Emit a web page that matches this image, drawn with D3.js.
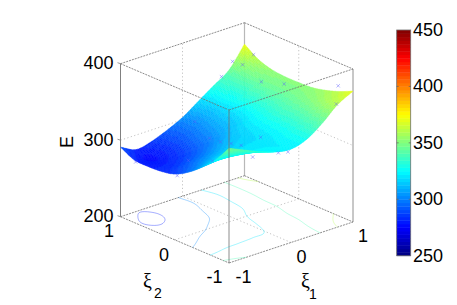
<!DOCTYPE html>
<html><head><meta charset="utf-8">
<script src="https://cdn.jsdelivr.net/npm/d3@7"></script>
<style>html,body{margin:0;padding:0;background:#fff}svg{display:block}text{font-family:"Liberation Sans",Arial,sans-serif;fill:#000}</style>
</head><body><svg id="c" width="457" height="305"></svg>
<script>
const xiGrid = [-1,-0.75,-0.5,-0.25,0,0.25,0.5,0.75,1];
// rows: xi2 = -1 ... 1, columns: xi1 = -1 ... 1
const surfaceE = [
 [350,341,332,325,322,328,342,360,371],
 [327,325,323,322,322,328,340,355,363],
 [310,316,318,319,320,326,337,350,357],
 [296,304,310,315,318,325,336,347,353],
 [286,294,300,308,315,323,333,345,352],
 [282,285,291,299,309,318,331,345,352],
 [281,280,285,295,305,316,329,344,354],
 [282,277,283,292,302,314,329,344,360],
 [291,281,285,293,303,317,331,345,372]
];
const sampleXi1 = [.97,.80,.82,.62,.79,.87,.98,.82,-.01,-.23,-.29,-.31,-.34,.01,-.32,-.16,.03,-1,-.65,-.525,-.75];
const sampleXi2 = [.80,.99,.83,.99,.45,.12,-.75,-.9,.76,.24,-.03,-.25,-.47,-.43,-.66,-.95,-.91,.72,.15,-.154,.24];
const sampleE   = [365,355,355,340,345,350,371,356,305,305,310,315,320,320,310,320,315,280,290,295,270];
const contourLevels = [280,300,320,340,360];
const xiTicks = [-1,0,1];
const eTicks = [200,300,400];
const cbTicks = [250,300,350,400,450];

const svg = d3.select("#c");
// projection of the 3-D box
const x1 = d3.scaleLinear([-1,1],[0,124]);
const y1 = d3.scaleLinear([-1,1],[0,-41]);
const x2 = d3.scaleLinear([-1,1],[0,-108.5]);
const y2 = d3.scaleLinear([-1,1],[0,-46.3]);
const yE = d3.scaleLinear([200,400],[0,-153]);
const O = [229,263];
const P = (a,b,e)=>[O[0]+x1(a)+x2(b), O[1]+y1(a)+y2(b)+yE(e)];
const path = pts=>"M"+pts.map(p=>p[0].toFixed(2)+","+p[1].toFixed(2)).join("L");

function jet(t){
  const i=Math.max(0,Math.min(63,Math.floor(t*64)));
  const v=(i+0.5)/64*4;
  const f=c=>Math.max(0,Math.min(1,1.5-Math.abs(v-c)));
  return d3.rgb(255*f(3),255*f(2),255*f(1)).formatHex();
}
const cNorm = d3.scaleLinear([250,450],[0,1]);
const col = e=>jet(cNorm(e));

function line(pts,o){svg.append("path").attr("d",path(pts)).attr("fill","none")
  .attr("stroke",o.c).attr("stroke-width",o.w).attr("stroke-dasharray",o.d||null).attr("opacity",o.o||1);}
const gridSt={c:"#b4b4b4",w:.8,d:"1.2,2.4"}, edge={c:"#6e6e6e",w:.8,d:"2,1"};

// grid lines on floor and back walls
xiTicks.filter(v=>v===0).forEach(v=>{
  line([P(v,-1,200),P(v,1,200)],gridSt);
  line([P(-1,v,200),P(1,v,200)],gridSt);
  line([P(v,1,200),P(v,1,400)],gridSt);
  line([P(1,v,200),P(1,v,400)],gridSt);
});
eTicks.filter(v=>v===300).forEach(v=>{
  line([P(-1,1,v),P(1,1,v)],gridSt);
  line([P(1,1,v),P(1,-1,v)],gridSt);
});
// back lines
line([P(1,1,200),P(1,1,400)],{c:"#b8b8b8",w:1.2});
line([P(-1,1,400),P(1,1,400)],edge);
line([P(1,1,400),P(1,-1,400)],edge);
[[P(-1,1,200),P(1,1,200)],[P(1,1,200),P(1,-1,200)],[P(-1,1,200),P(-1,-1,200)],[P(-1,-1,200),P(1,-1,200)]].forEach(s=>line(s,edge));
line([P(-1,1,200),P(-1,1,400)],{c:"#808080",w:1});
line([P(1,-1,200),P(1,-1,400)],{c:"#909090",w:1});

// smooth rendering of the read grid (Catmull-Rom between the read values)
const sub=10, N=(xiGrid.length-1)*sub+1;
function cr(p0,p1,p2,p3,t){return .5*(2*p1+(p2-p0)*t+(2*p0-5*p1+4*p2-p3)*t*t+(3*p1-p0-3*p2+p3)*t*t*t);}
function sample1(arr,u){const n=arr.length-1,i=Math.min(n-1,Math.floor(u)),t=u-i;
  const g=k=>k<0?2*arr[0]-arr[1]:k>n?2*arr[n]-arr[n-1]:arr[k];
  return cr(g(i-1),g(i),g(i+1),g(i+2),t);}
const fine=[];
const rowsFine=surfaceE.map(r=>d3.range(N).map(i=>sample1(r,i/sub)));
for(let j=0;j<N;j++){const col_=d3.range(N).map(i=>sample1(rowsFine.map(r=>r[i]),j/sub));fine.push(col_);}
const xiF=d3.scaleLinear([0,N-1],[-1,1]);

// floor contours
const flat=[];for(let j=0;j<N;j++)for(let i=0;i<N;i++)flat.push(fine[j][i]);
const cg=d3.contours().size([N,N]).thresholds(contourLevels)(flat);
cg.forEach(c=>{
  c.coordinates.forEach(poly=>poly.forEach(ring=>{
    let seg=[];
    const flush=()=>{if(seg.length>1)line(seg.map(p=>P(xiF(p[0]-.5),xiF(p[1]-.5),200)),{c:col(c.value),w:.6,o:.6});seg=[];};
    ring.forEach(p=>{
      const out=p[0]<=.01||p[1]<=.01||p[0]>=N-.01||p[1]>=N-.01;
      if(out)flush();else seg.push(p);
    });
    flush();
  }));
});

// surface, far to near
const s=svg.append("g");
const quads=[];
for(let j=N-2;j>=0;j--)for(let i=N-2;i>=0;i--)quads.push([i,j]);
quads.sort((A,B)=>(B[0]*20.5+B[1]*23.15)-(A[0]*20.5+A[1]*23.15));
quads.forEach(([i,j])=>{
  const e=(fine[j][i]+fine[j][i+1]+fine[j+1][i]+fine[j+1][i+1])/4;
  const c=col(e);
  const q=[[i,j],[i+1,j],[i+1,j+1],[i,j+1]].map(([a,b])=>P(xiF(a),xiF(b),fine[b][a]));
  s.append("path").attr("d",path(q)+"Z").attr("fill",c).attr("stroke",c).attr("stroke-width",.35);
});

// front box lines on top of the surface
line([P(-1,-1,200),P(-1,-1,400)],{c:"#6e6e6e",w:.8});
line([P(-1,1,400),P(-1,-1,400)],edge);
line([P(-1,-1,400),P(1,-1,400)],edge);

// samples
const cr2=1.7;
sampleE.forEach((e,i)=>{
  const p=P(sampleXi1[i],sampleXi2[i],e);
  svg.append("path").attr("d",`M${p[0]-cr2},${p[1]-cr2}L${p[0]+cr2},${p[1]+cr2}M${p[0]-cr2},${p[1]+cr2}L${p[0]+cr2},${p[1]-cr2}`)
    .attr("stroke","#5a5aff").attr("stroke-width",.6).attr("fill","none").attr("opacity",.75);
});

// axes text
const T=(x,y,t,a,fs,fam)=>{const n=svg.append("text").attr("x",x).attr("y",y).attr("text-anchor",a||"middle").attr("font-size",fs||18).text(t);if(fam)n.style("font-family",fam);return n;};
eTicks.forEach(v=>{
  const p=P(-1,1,v);
  line([[p[0]-3,p[1]-1],[p[0],p[1]]],{c:"#808080",w:.8});
  T(113.5,p[1]+5.5,v,"end");
});
xiTicks.forEach((v,i)=>{
  const off2=[[214.5,283],[164,260.5],[109,237]][i];
  const off1=[[243.5,283],[301.5,263],[363,242]][i];
  T(off2[0],off2[1],String(v),"middle");
  T(off1[0],off1[1],String(v),"middle");
});
svg.append("text").attr("transform","translate(72.5,142) rotate(-90)").attr("text-anchor","middle").attr("font-size",18).text("E");
const serif='"Liberation Serif",serif';
T(147.5,288,"ξ","middle",20,serif); T(158,298,"2","middle",14);
T(305.5,288,"ξ","middle",20,serif); T(313,299,"1","middle",14);

// colour bar
const cbY=d3.scaleLinear([250,450],[255.7,30]);
const cbX=[396.7,410.7];
d3.range(64).forEach(i=>{
  const e0=250+i*200/64,e1=250+(i+1)*200/64;
  svg.append("rect").attr("x",cbX[0]).attr("width",cbX[1]-cbX[0]).attr("y",cbY(e1)).attr("height",cbY(e0)-cbY(e1)+.4).attr("fill",jet((i+.5)/64));
});
svg.append("rect").attr("x",cbX[0]).attr("y",cbY(450)).attr("width",cbX[1]-cbX[0]).attr("height",cbY(250)-cbY(450)).attr("fill","none").attr("stroke","#707070").attr("stroke-width",.8);
cbTicks.forEach(v=>{
  const y=cbY(v);
  if(v>250&&v<450){line([[cbX[0],y],[cbX[0]+2,y]],{c:"#606060",w:.7});line([[cbX[1]-2,y],[cbX[1],y]],{c:"#606060",w:.7});}
  T(413,y+6,v,"start");
});
</script></body></html>
